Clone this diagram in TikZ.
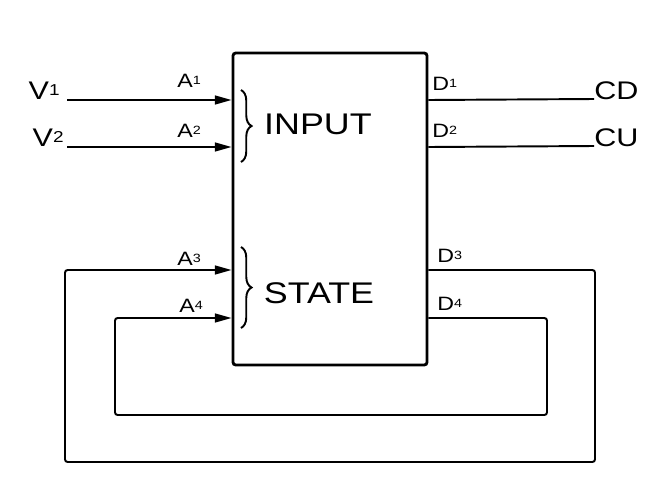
\documentclass[tikz,border=0pt]{standalone}
\usepackage{fontspec}
\setmainfont[FakeStretch=1.2]{Liberation Sans}
\usepackage{graphicx}
\usepackage{tikz}
\usetikzlibrary{arrows.meta,positioning,decorations.pathreplacing}
\newcommand\idx[1]{\raisebox{.25ex}{\scalebox{.62}{#1}}}
\tikzset{
  blk/.style={draw,line width=1.6pt,rounded corners=1.5pt,inner sep=0pt},
  wire/.style={line width=1.1pt,rounded corners=1.5pt},
  sig/.style={wire,-{Triangle[length=9.5pt,width=5pt]}},
  pin/.style={inner sep=0pt,font=\fontsize{11}{13}\selectfont},
  port/.style={inner sep=0pt,font=\fontsize{14.5}{17}\selectfont},
  grp/.style={inner sep=0pt,font=\fontsize{17}{20}\selectfont},
  brc/.style={line width=1.1pt,decorate,decoration={brace,amplitude=6pt}}
}

\begin{document}
\begin{tikzpicture}[x=0.02cm,y=-0.02cm]
  \useasboundingbox (0,0) rectangle (653,484);
  \node[blk,minimum width=3.88cm,minimum height=6.24cm] (sys) at (330,209) {};
  % inputs
  \node[port,anchor=base east] (v1) at (60,99) {V\idx{1}};
  \node[port,anchor=base east] (v2) at (64,146) {V\idx{2}};
  \coordinate (v1e) at (67,100);
  \coordinate (v2e) at (67,147);
  \draw[sig] (v1e) -- (sys.west |- v1e);
  \draw[sig] (v2e) -- (sys.west |- v2e);
  \node[pin,anchor=base west] (a1) at (177,87) {A\idx{1}};
  \node[pin,anchor=base west] (a2) at (177,137) {A\idx{2}};
  % outputs
  \node[port,anchor=base west] (cd) at (594,99) {CD};
  \node[port,anchor=base west] (cu) at (594,146) {CU};
  \draw[wire] (sys.east |- v1e) -- (cd.base west);
  \draw[wire] (sys.east |- v2e) -- (cu.base west);
  \node[pin,anchor=base west] (d1) at (432,90) {D\idx{1}};
  \node[pin,anchor=base west] (d2) at (432,137) {D\idx{2}};
  % state feedback
  \coordinate (s3) at (sys.east |- 0,270);
  \coordinate (s4) at (sys.east |- 0,318);
  \coordinate (o3) at (595,462);
  \coordinate (o4) at (547,415);
  \coordinate (w3) at (65,270);
  \coordinate (w4) at (115,318);
  \draw[sig] (s3) -| (o3) -| (w3) -- (sys.west |- w3);
  \draw[sig] (s4) -| (o4) -| (w4) -- (sys.west |- w4);
  \node[pin,anchor=base west] (a3) at (177,265) {A\idx{3}};
  \node[pin,anchor=base west] (a4) at (179,312) {A\idx{4}};
  \node[pin,anchor=base west] (d3) at (437,262) {D\idx{3}};
  \node[pin,anchor=base west] (d4) at (437,310) {D\idx{4}};
  % groups
  \draw[brc] (241,90) -- (241,162);
  \draw[brc] (241,247) -- (241,328);
  \node[grp] (inp) at (318,124) {INPUT};
  \node[grp] (st) at (319,293) {STATE};
\end{tikzpicture}
\end{document}
